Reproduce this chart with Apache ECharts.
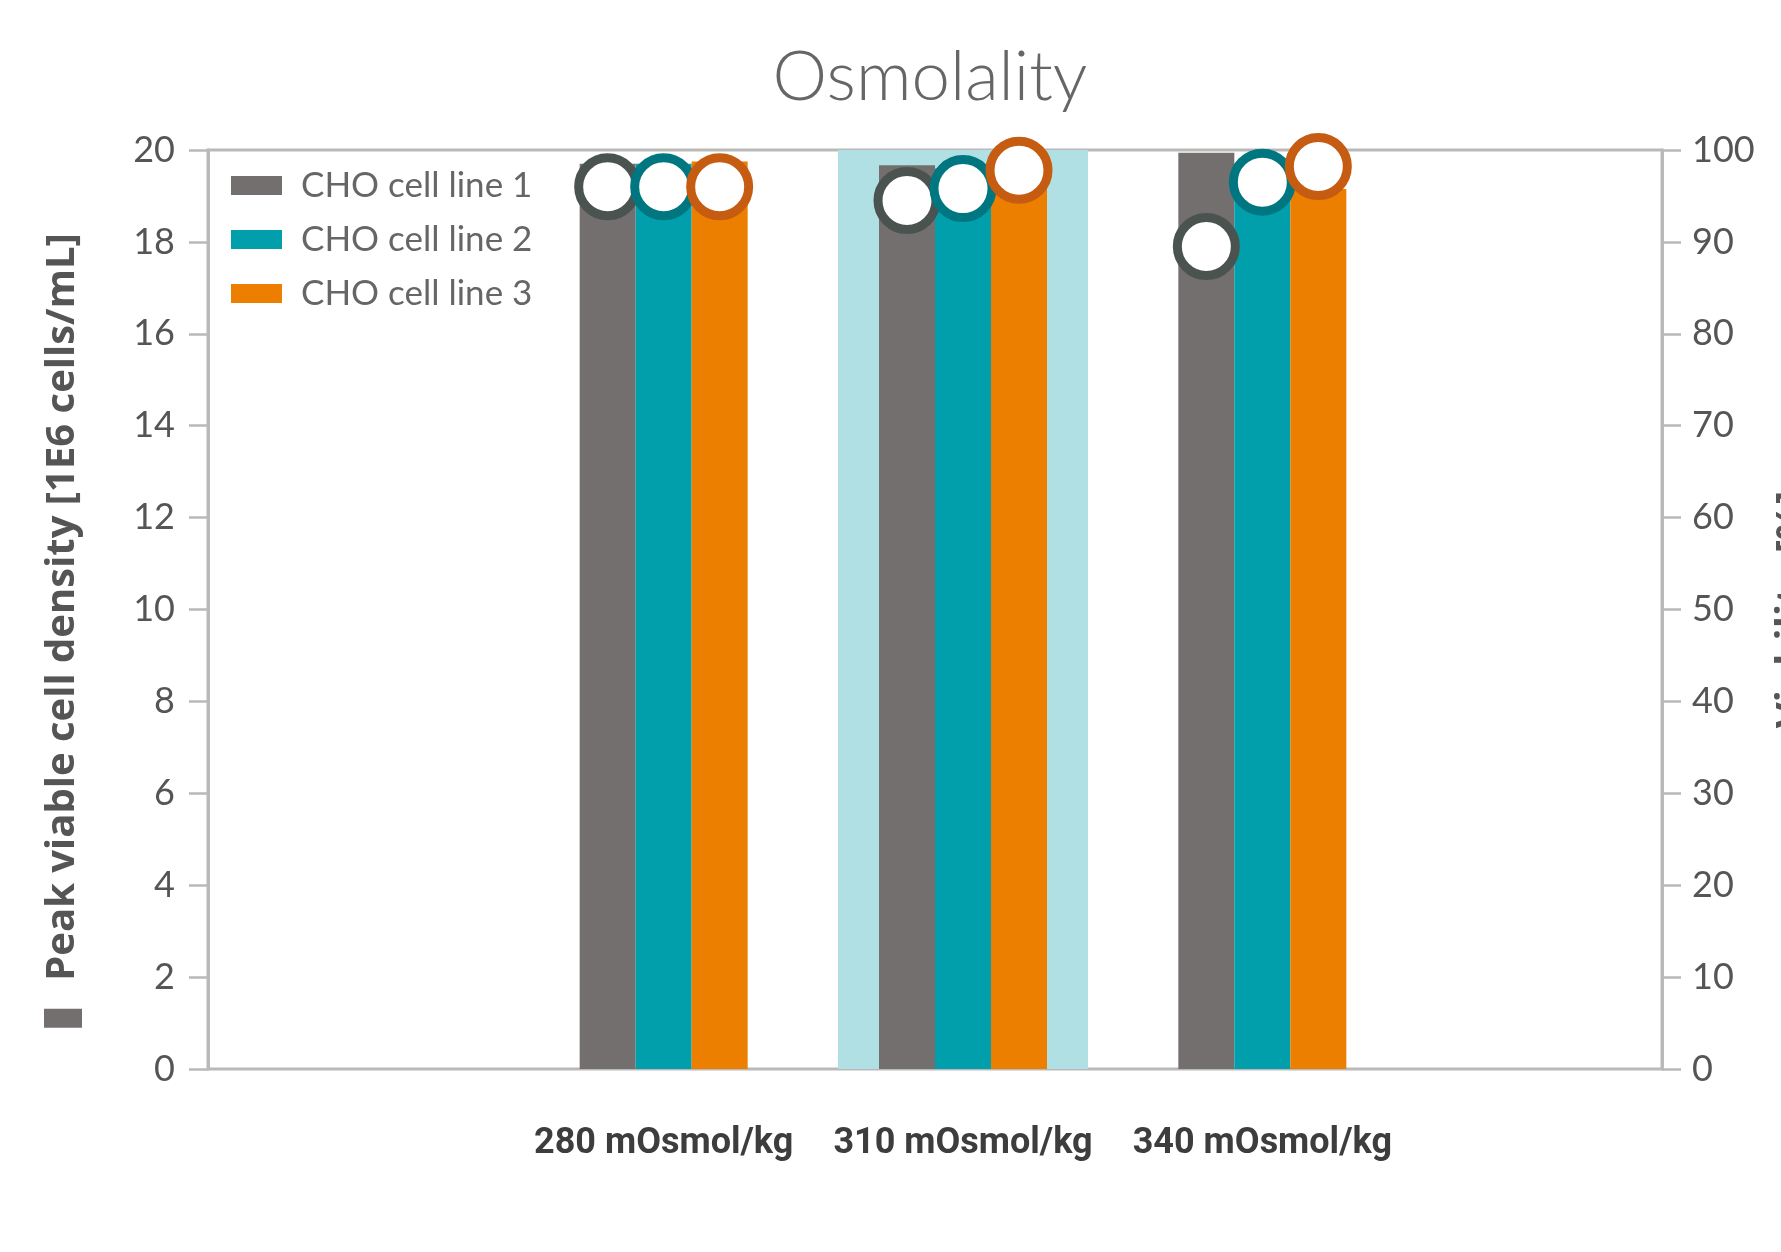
<!DOCTYPE html>
<html>
<head>
<meta charset="utf-8">
<title>Osmolality</title>
<script src="https://cdn.jsdelivr.net/npm/echarts@6/dist/echarts.min.js"></script>
<style>
  html, body { margin: 0; padding: 0; background: #ffffff; }
  #chart { width: 1781px; height: 1252px; }
</style>
</head>
<body>
<div id="chart"></div>
<script>
// Osmolality conditions on the x axis
const categories = ['280 mOsmol/kg', '310 mOsmol/kg', '340 mOsmol/kg'];
const cellLines = ['CHO cell line 1', 'CHO cell line 2', 'CHO cell line 3'];

// Peak viable cell density [1E6 cells/mL] (bars, left axis)
const densityLine1 = [19.7, 19.67, 19.94];
const densityLine2 = [19.7, 19.6, 19.3];
const densityLine3 = [19.75, 19.7, 19.15];

// Viability [%] (ring markers, right axis)
const viabilityLine1 = [96.0, 94.5, 89.5];
const viabilityLine2 = [96.0, 95.8, 96.5];
const viabilityLine3 = [96.0, 97.8, 98.2];

// Standard condition shaded behind its bar group
const standardBand = [null, 20, null];

// Axis ranges and tick steps
const densityAxis = { min: 0, max: 20, interval: 2 };
const viabilityAxis = { min: 0, max: 100, interval: 10 };

const barColors = ['#736f6e', '#009fab', '#ec7f00'];
const ringColors = ['#4b5351', '#007780', '#c55c12'];
const densities = [densityLine1, densityLine2, densityLine3];
const viabilities = [viabilityLine1, viabilityLine2, viabilityLine3];

const frameColor = '#b9b9b9';
const tickFont = { fontFamily: 'Lato', fontSize: 36, color: '#555555' };
const nameFont = { fontFamily: "'Open Sans'", fontWeight: 'bold', fontSize: 40, color: '#555555' };
const barWidth = 56;

const chart = echarts.init(document.getElementById('chart'), null, { renderer: 'canvas' });

const barSeries = cellLines.map((name, i) => ({
  name: name,
  type: 'bar',
  xAxisIndex: 1,
  yAxisIndex: 2,
  barWidth: barWidth,
  barGap: '0%',
  itemStyle: { color: barColors[i] },
  z: 3,
  data: densities[i]
}));

const ringSeries = cellLines.map((name, i) => ({
  name: 'Viability ' + name,
  type: 'scatter',
  xAxisIndex: 1,
  yAxisIndex: 3,
  symbol: 'circle',
  symbolSize: 58,
  symbolOffset: [(i - 1) * barWidth, 0],
  itemStyle: { color: '#ffffff', borderColor: ringColors[i], borderWidth: 9, opacity: 1 },
  z: 5,
  data: viabilities[i]
}));

const option = {
  backgroundColor: '#ffffff',
  animation: false,
  title: {
    text: 'Osmolality',
    left: 925,
    top: 31,
    textAlign: 'center',
    textStyle: { fontFamily: 'Lato', fontWeight: 300, fontSize: 69, color: '#666666', lineHeight: 84 }
  },
  legend: {
    data: cellLines,
    orient: 'vertical',
    left: 231,
    top: 168,
    padding: 0,
    icon: 'rect',
    itemWidth: 51,
    itemHeight: 19,
    itemGap: 19,
    selectedMode: false,
    textStyle: { fontFamily: 'Lato', fontSize: 35, color: '#666666', lineHeight: 32, padding: [0, 0, 0, 14] }
  },
  grid: [
    // outer frame carrying both value axes
    { left: 208, right: 119, top: 150, bottom: 183, outerBoundsMode: 'none', containLabel: false, show: true, borderColor: frameColor, borderWidth: 3, backgroundColor: 'transparent' },
    // band area holding the three osmolality groups
    { left: 514, width: 898, top: 150, bottom: 183, outerBoundsMode: 'none', containLabel: false }
  ],
  xAxis: [
    { gridIndex: 0, type: 'value', min: 0, max: 1, show: false },
    {
      gridIndex: 1, type: 'category', data: categories,
      axisLine: { show: false }, axisTick: { show: false },
      axisLabel: { interval: 0, margin: 55, fontFamily: 'Roboto', fontWeight: 'bold', fontSize: 36, color: '#3d3d3d', lineHeight: 40 }
    },
    { gridIndex: 1, type: 'category', data: categories, show: false }
  ],
  yAxis: [
    {
      gridIndex: 0, type: 'value', position: 'left',
      min: densityAxis.min, max: densityAxis.max, interval: densityAxis.interval,
      axisLine: { show: true, lineStyle: { color: frameColor, width: 3 } },
      axisTick: { show: true, inside: false, length: 19, lineStyle: { color: frameColor, width: 2.5 } },
      axisLabel: Object.assign({ margin: 33 }, tickFont),
      splitLine: { show: false },
      name: '{sq|}{t|Peak viable cell density [1E6 cells/mL]}',
      nameLocation: 'middle',
      nameRotate: 90,
      nameGap: 125,
      nameMoveOverlap: false,
      nameTextStyle: {
        padding: [0, 42, 0, 0],
        rich: {
          sq: { width: 19, height: 38, backgroundColor: '#736f6e' },
          t: Object.assign({ padding: [0, 0, 0, 28] }, nameFont)
        }
      }
    },
    {
      gridIndex: 0, type: 'value', position: 'right',
      min: viabilityAxis.min, max: viabilityAxis.max, interval: viabilityAxis.interval,
      axisLine: { show: true, lineStyle: { color: frameColor, width: 3 } },
      axisTick: { show: true, inside: false, length: 19, lineStyle: { color: frameColor, width: 2.5 } },
      axisLabel: Object.assign({ margin: 30 }, tickFont),
      splitLine: { show: false },
      name: 'Viability [%]',
      nameLocation: 'middle',
      nameRotate: 90,
      nameGap: 111,
      nameMoveOverlap: false,
      nameTextStyle: nameFont
    },
    { gridIndex: 1, type: 'value', min: densityAxis.min, max: densityAxis.max, show: false },
    { gridIndex: 1, type: 'value', min: viabilityAxis.min, max: viabilityAxis.max, show: false }
  ],
  series: [
    {
      name: 'Standard',
      type: 'bar',
      xAxisIndex: 2,
      yAxisIndex: 2,
      barWidth: 250,
      itemStyle: { color: '#b0e0e4' },
      z: 1,
      silent: true,
      data: standardBand
    }
  ].concat(barSeries, ringSeries)
};

chart.setOption(option);
</script>
</body>
</html>
